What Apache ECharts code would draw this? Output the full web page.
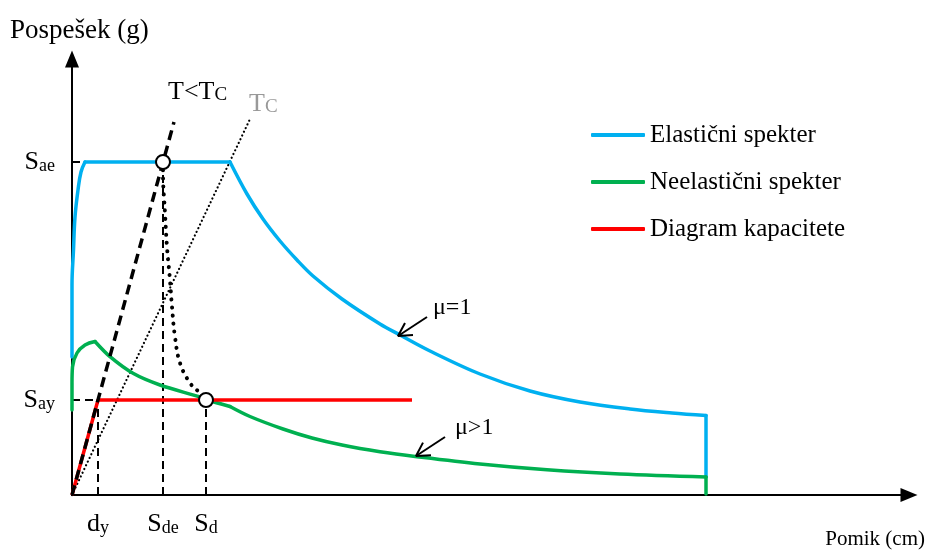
<!DOCTYPE html>
<html>
<head>
<meta charset="utf-8">
<script src="https://cdn.jsdelivr.net/npm/echarts@6/dist/echarts.min.js"></script>
<style>
  html, body { margin: 0; padding: 0; background: #fff; }
  #chart { width: 934px; height: 552px; }
</style>
</head>
<body>
<div id="chart"></div>
<script>
// Capacity spectrum method (N2): elastic / inelastic demand spectra and capacity curve in ADRS format.
// Displacement in cm (x), spectral acceleration (y), schematic values.

const legendNames = ['Elastični spekter', 'Neelastični spekter', 'Diagram kapacitete'];

// Elastic demand spectrum (μ = 1), drawn in pieces so the corners stay sharp
const elasticRise = [[0, 13.8], [0, 21.0], [0.15, 24.5], [0.3, 27.8], [0.6, 30.5], [0.9, 32.3], [1.3, 33.3]];
const elasticPlateau = [[1.3, 33.3], [15.8, 33.3]];
const elasticDecay = [
  [15.8, 33.3], [17.5, 30.1], [19.1, 27.6], [20.8, 25.4], [22.5, 23.5], [24.1, 21.9],
  [27.0, 19.6], [30.8, 17.1], [32.8, 16.0], [35.8, 14.4], [40.8, 12.1], [45.8, 10.4],
  [50.8, 9.3], [55.8, 8.6], [60.0, 8.2], [63.4, 7.95]
];
const elasticCutoff = [[63.4, 7.95], [63.4, 1.8]];

// Inelastic demand spectrum (μ > 1)
const inelasticRise = [[0, 8.5], [0, 11.2], [0.05, 12.8], [0.5, 14.2], [1.3, 15.0], [2.3, 15.35]];
const inelasticDecay = [
  [2.3, 15.35], [3.8, 13.83], [6.1, 12.17], [8.8, 11.0], [12.8, 9.8], [13.4, 9.55], [15.8, 8.85]
];
const inelasticTail = [
  [15.8, 8.85], [17.8, 7.85], [21.1, 6.6], [24.0, 5.7], [27.0, 5.0], [30.8, 4.33], [34.5, 3.83],
  [40.8, 3.1], [47.5, 2.52], [54.8, 2.1], [63.4, 1.8]
];
const inelasticCutoff = [[63.4, 1.8], [63.4, 0.1]];

// Bilinear capacity diagram: yield at (dy, Say)
const capacityCurve = [[0, 0], [2.6, 9.5], [34.0, 9.5]];

// Period lines through the origin
const periodShortLine = [[0, 0], [10.2, 37.3]];   // T < TC
const periodCornerLine = [[0, 0], [17.8, 37.6]];  // TC

// Constant-ductility path from elastic to inelastic demand point
const ductilityPath = [
  [9.1, 33.3], [9.1, 32.2], [9.3, 28.2], [9.5, 24.8], [9.8, 21.5], [10.0, 18.8],
  [10.3, 15.8], [10.8, 13.2], [11.8, 11.2], [12.8, 10.2], [13.4, 9.5]
];

// Projection lines to the axes
const guideDy = [[2.6, 0], [2.6, 9.5]];
const guideSde = [[9.1, 0], [9.1, 33.3]];
const guideSd = [[13.4, 0], [13.4, 9.5]];
const guideSay = [[0, 9.5], [2.6, 9.5]];

// Demand points: elastic (Sde, Sae) and inelastic (Sd, Say)
const demandPoints = [[9.1, 33.3], [13.4, 9.5]];

// Pointer arrows for μ labels: shaft (tail, head) and head wings
const arrowMu1Shaft = [[35.5, 17.8], [32.6, 15.9]];
const arrowMu1Head = [[34.1, 16.0], [32.6, 15.9], [33.3, 17.2]];
const arrowMu2Shaft = [[37.3, 5.8], [34.4, 3.9]];
const arrowMu2Head = [[35.9, 3.98], [34.4, 3.9], [35.1, 5.24]];

// Axis tick positions and labels
const xTickValues = [2.6, 9.1, 13.4];
const xTickLabels = ['{m|d}{s|y}', '{m|S}{s|de}', '{m|S}{s|d}'];
const yTickValues = [9.5, 33.3];
const yTickLabels = ['{m|S}{s|ay}', '{m|S}{s|ae}'];

const SERIF = '"Liberation Serif", "DejaVu Serif", serif';
const BLUE = '#00b0f0', GREEN = '#00b050', RED = '#ff0000';

const subRich = {
  m: { fontFamily: SERIF, fontSize: 26, color: '#000', lineHeight: 26, verticalAlign: 'bottom' },
  s: { fontFamily: SERIF, fontSize: 18, color: '#000', lineHeight: 4, verticalAlign: 'bottom' }
};

function pick(values, labels, v) {
  let best = 0;
  values.forEach((t, i) => { if (Math.abs(t - v) < Math.abs(values[best] - v)) best = i; });
  return labels[best];
}

function lineSeries(data, opts) {
  return Object.assign({
    type: 'line', data: data, showSymbol: false, symbol: 'none', clip: false,
    silent: true, animation: false
  }, opts);
}

const blueStyle = { name: legendNames[0], color: BLUE, lineStyle: { color: BLUE, width: 3.5, cap: 'round', join: 'round' }, z: 3 };
const greenStyle = { name: legendNames[1], color: GREEN, lineStyle: { color: GREEN, width: 3.5, cap: 'round', join: 'round' }, z: 3 };
const guideStyle = { lineStyle: { color: '#000', width: 2, type: [8, 5] }, z: 1 };

const chart = echarts.init(document.getElementById('chart'));
chart.setOption({
  backgroundColor: '#fff',
  animation: false,
  grid: { left: 72, right: 25, top: 59, bottom: 57 },
  xAxis: {
    type: 'value', min: 0, max: 83.7,
    splitLine: { show: false },
    axisLine: { show: true, onZero: false, symbol: ['none', 'triangle'], symbolSize: [14, 17],
      lineStyle: { color: '#000', width: 2 } },
    axisTick: { show: false },
    axisLabel: {
      customValues: xTickValues, margin: 16,
      formatter: v => pick(xTickValues, xTickLabels, v), rich: subRich
    }
  },
  yAxis: {
    type: 'value', min: 0, max: 43.6,
    splitLine: { show: false },
    axisLine: { show: true, onZero: false, symbol: ['none', 'triangle'], symbolSize: [14, 17],
      lineStyle: { color: '#000', width: 2 } },
    axisTick: { show: true, customValues: yTickValues, inside: true, length: 8,
      lineStyle: { color: '#000', width: 2 } },
    axisLabel: {
      customValues: yTickValues, margin: 17,
      formatter: v => pick(yTickValues, yTickLabels, v), rich: subRich
    }
  },
  legend: {
    data: legendNames, orient: 'vertical', left: 586, top: 117,
    itemWidth: 54, itemHeight: 4, itemGap: 21, icon: 'roundRect', selectedMode: false,
    textStyle: { fontFamily: SERIF, fontSize: 25, color: '#000', lineHeight: 26 }
  },
  series: [
    lineSeries(guideDy, guideStyle),
    lineSeries(guideSde, guideStyle),
    lineSeries(guideSd, guideStyle),
    lineSeries(guideSay, guideStyle),
    lineSeries(periodCornerLine, { lineStyle: { color: '#000', width: 2.2, type: [0.1, 4], cap: 'round' }, z: 2 }),
    lineSeries(elasticRise, Object.assign({ smooth: 0.4 }, blueStyle)),
    lineSeries(elasticPlateau, blueStyle),
    lineSeries(elasticDecay, Object.assign({ smooth: 0.35 }, blueStyle)),
    lineSeries(elasticCutoff, blueStyle),
    lineSeries(inelasticRise, Object.assign({ smooth: 0.4 }, greenStyle)),
    lineSeries(inelasticDecay, Object.assign({ smooth: 0.3 }, greenStyle)),
    lineSeries(inelasticTail, Object.assign({ smooth: 0.35 }, greenStyle)),
    lineSeries(inelasticCutoff, greenStyle),
    lineSeries(capacityCurve, { name: legendNames[2], color: RED, lineStyle: { color: RED, width: 3.5 }, z: 4 }),
    lineSeries(periodShortLine, { lineStyle: { color: '#000', width: 3.5, type: [10, 6] }, z: 5 }),
    lineSeries(ductilityPath, { smooth: 0.4, lineStyle: { color: '#000', width: 4, type: [0.1, 8], cap: 'round' }, z: 5 }),
    lineSeries(arrowMu1Shaft, { lineStyle: { color: '#000', width: 2 }, z: 5 }),
    lineSeries(arrowMu1Head, { lineStyle: { color: '#000', width: 2 }, z: 5 }),
    lineSeries(arrowMu2Shaft, { lineStyle: { color: '#000', width: 2 }, z: 5 }),
    lineSeries(arrowMu2Head, { lineStyle: { color: '#000', width: 2 }, z: 5 }),
    {
      type: 'scatter', data: demandPoints, symbol: 'circle', symbolSize: 14, clip: false,
      silent: true, animation: false, z: 6,
      itemStyle: { color: '#fff', borderColor: '#000', borderWidth: 2, opacity: 1 }
    }
  ],
  graphic: [
    { type: 'text', left: 10, top: 17, style: { text: 'Pospešek (g)', font: '27px ' + SERIF, fill: '#000' } },
    { type: 'text', right: 9, top: 529, style: { text: 'Pomik (cm)', font: '21px ' + SERIF, fill: '#000' } },
    { type: 'text', left: 168, top: 79, style: {
      text: '{m|T<T}{s|C}',
      rich: {
        m: { fontFamily: SERIF, fontSize: 26, fill: '#000', lineHeight: 26, verticalAlign: 'bottom' },
        s: { fontFamily: SERIF, fontSize: 19, fill: '#000', lineHeight: 6, verticalAlign: 'bottom' }
      } } },
    { type: 'text', left: 249, top: 91, style: {
      text: '{m|T}{s|C}',
      rich: {
        m: { fontFamily: SERIF, fontSize: 26, fill: '#999', lineHeight: 26, verticalAlign: 'bottom' },
        s: { fontFamily: SERIF, fontSize: 19, fill: '#999', lineHeight: 6, verticalAlign: 'bottom' }
      } } },
    { type: 'text', left: 433, top: 296, style: { text: 'μ=1', font: '24px ' + SERIF, fill: '#000' } },
    { type: 'text', left: 455, top: 416, style: { text: 'μ>1', font: '24px ' + SERIF, fill: '#000' } }
  ]
});
</script>
</body>
</html>
